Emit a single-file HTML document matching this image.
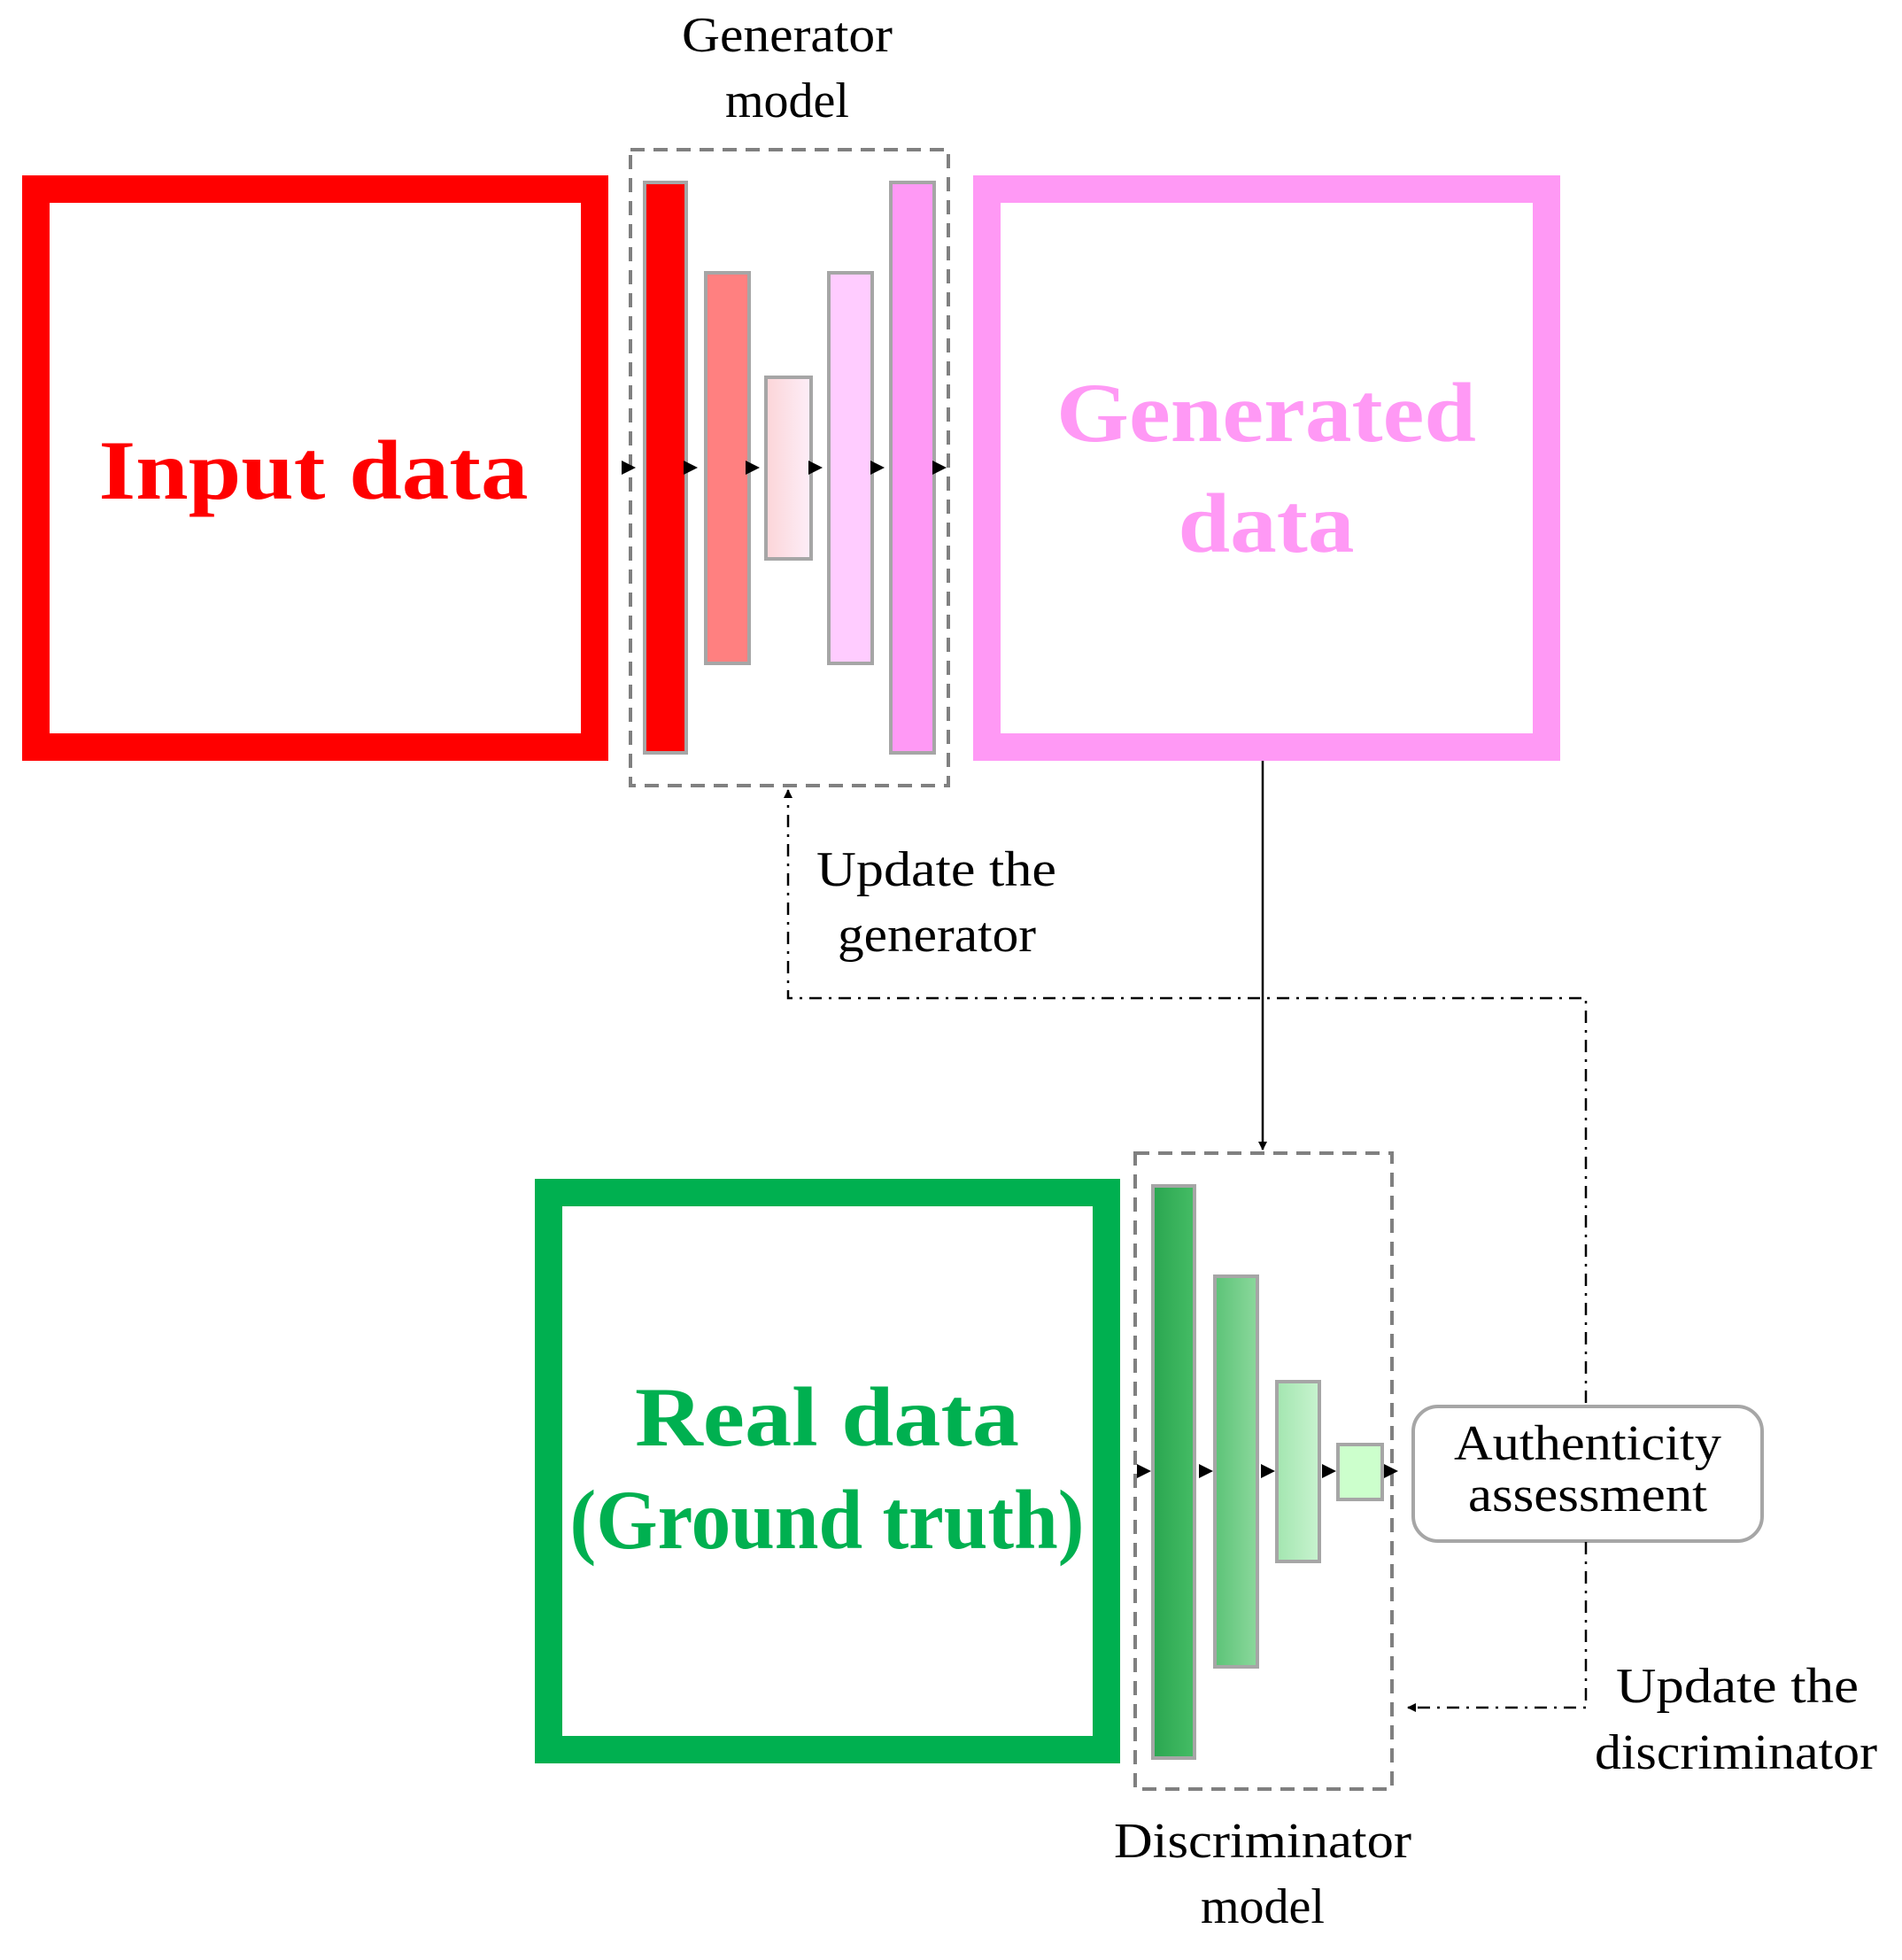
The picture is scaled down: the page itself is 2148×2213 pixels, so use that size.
<!DOCTYPE html>
<html><head><meta charset="utf-8"><style>html,body{margin:0;padding:0;background:#fff}svg{display:block}</style></head>
<body>
<svg width="2148" height="2213" viewBox="0 0 2148 2213" xmlns="http://www.w3.org/2000/svg" font-family="'Liberation Serif', serif">
<defs>
<linearGradient id="g3" x1="0" x2="1"><stop offset="0" stop-color="#fcd5d8"/><stop offset="1" stop-color="#fdeef8"/></linearGradient>
<linearGradient id="d1" x1="0" x2="1"><stop offset="0" stop-color="#2aa650"/><stop offset="1" stop-color="#45bc65"/></linearGradient>
<linearGradient id="d2" x1="0" x2="1"><stop offset="0" stop-color="#5cc377"/><stop offset="1" stop-color="#8bd89c"/></linearGradient>
<linearGradient id="d3" x1="0" x2="1"><stop offset="0" stop-color="#a3e6b0"/><stop offset="1" stop-color="#c8f3cf"/></linearGradient>
<marker id="ah" markerWidth="10" markerHeight="10" refX="9" refY="5" orient="auto" markerUnits="userSpaceOnUse"><path d="M0,0 L10,5 L0,10 z" fill="#000"/></marker>
</defs>

<!-- Input box -->
<rect x="40.5" y="213.5" width="631" height="630" fill="none" stroke="#ff0000" stroke-width="31"/>
<text x="354" y="563" font-size="95" font-weight="bold" fill="#ff0000" text-anchor="middle" textLength="485" lengthAdjust="spacingAndGlyphs">Input data</text>

<!-- Generator -->
<text x="889" y="58" font-size="56" text-anchor="middle" textLength="238" lengthAdjust="spacingAndGlyphs">Generator</text>
<text x="889" y="132" font-size="56" text-anchor="middle">model</text>
<rect x="712" y="169" width="359" height="718" fill="none" stroke="#808080" stroke-width="4" stroke-dasharray="16,10"/>
<rect x="728" y="206" width="47" height="644" fill="#ff0000" stroke="#a6a6a6" stroke-width="4"/>
<rect x="797" y="308" width="49" height="441" fill="#ff8080" stroke="#a6a6a6" stroke-width="4"/>
<rect x="865" y="426" width="51" height="205" fill="url(#g3)" stroke="#a6a6a6" stroke-width="4"/>
<rect x="936" y="308" width="49" height="441" fill="#ffccff" stroke="#a6a6a6" stroke-width="4"/>
<rect x="1006" y="206" width="49" height="644" fill="#ff99f5" stroke="#a6a6a6" stroke-width="4"/>
<g fill="#000">
<path d="M702,520 L718,528 L702,536z"/><path d="M772,520 L788,528 L772,536z"/><path d="M842,520 L858,528 L842,536z"/><path d="M913,520 L929,528 L913,536z"/><path d="M983,520 L999,528 L983,536z"/><path d="M1053,520 L1069,528 L1053,536z"/>
</g>

<!-- Generated box -->
<rect x="1114.5" y="213.5" width="632" height="630" fill="none" stroke="#ff99f5" stroke-width="31"/>
<text x="1430" y="498" font-size="95" font-weight="bold" fill="#ff99f5" text-anchor="middle" textLength="474" lengthAdjust="spacingAndGlyphs">Generated</text>
<text x="1430" y="623" font-size="95" font-weight="bold" fill="#ff99f5" text-anchor="middle" textLength="199" lengthAdjust="spacingAndGlyphs">data</text>

<!-- connector generated -> discriminator -->
<line x1="1426" y1="859" x2="1426" y2="1298" stroke="#000" stroke-width="2.5" marker-end="url(#ah)"/>

<!-- Update generator -->
<path d="M1791,1584 L1791,1127 L890,1127 L890,892" fill="none" stroke="#000" stroke-width="2.5" stroke-dasharray="14,8,3,8" marker-end="url(#ah)"/>
<text x="922" y="1000" font-size="56" textLength="271" lengthAdjust="spacingAndGlyphs">Update the</text>
<text x="946" y="1074" font-size="56" textLength="224" lengthAdjust="spacingAndGlyphs">generator</text>

<!-- Real data box -->
<rect x="619.5" y="1346.5" width="630" height="629" fill="none" stroke="#00b050" stroke-width="31"/>
<text x="934" y="1632" font-size="95" font-weight="bold" fill="#00b050" text-anchor="middle" textLength="434" lengthAdjust="spacingAndGlyphs">Real data</text>
<text x="934" y="1748" font-size="95" font-weight="bold" fill="#00b050" text-anchor="middle" textLength="581" lengthAdjust="spacingAndGlyphs">(Ground truth)</text>

<!-- Discriminator -->
<rect x="1282" y="1302" width="290" height="718" fill="none" stroke="#808080" stroke-width="4" stroke-dasharray="16,10"/>
<rect x="1302" y="1339" width="47" height="646" fill="url(#d1)" stroke="#a6a6a6" stroke-width="4"/>
<rect x="1372" y="1441" width="48" height="441" fill="url(#d2)" stroke="#a6a6a6" stroke-width="4"/>
<rect x="1442" y="1560" width="48" height="203" fill="url(#d3)" stroke="#a6a6a6" stroke-width="4"/>
<rect x="1511" y="1631" width="50" height="62" fill="#ccffcc" stroke="#a6a6a6" stroke-width="4"/>
<g fill="#000">
<path d="M1284,1653 L1300,1661 L1284,1669z"/><path d="M1354,1653 L1370,1661 L1354,1669z"/><path d="M1424,1653 L1440,1661 L1424,1669z"/><path d="M1493,1653 L1509,1661 L1493,1669z"/><path d="M1563,1653 L1579,1661 L1563,1669z"/>
</g>
<text x="1426" y="2097" font-size="56" text-anchor="middle" textLength="336" lengthAdjust="spacingAndGlyphs">Discriminator</text>
<text x="1426" y="2171" font-size="56" text-anchor="middle">model</text>

<!-- Authenticity -->
<rect x="1596" y="1588" width="394" height="152" rx="28" fill="#fff" stroke="#a6a6a6" stroke-width="4"/>
<text x="1793" y="1648" font-size="56" text-anchor="middle" textLength="302" lengthAdjust="spacingAndGlyphs">Authenticity</text>
<text x="1793" y="1706" font-size="56" text-anchor="middle" textLength="270" lengthAdjust="spacingAndGlyphs">assessment</text>

<!-- Update discriminator -->
<path d="M1791,1741 L1791,1928 L1590,1928" fill="none" stroke="#000" stroke-width="2.5" stroke-dasharray="14,8,3,8" marker-end="url(#ah)"/>
<text x="1825" y="1922" font-size="56" textLength="274" lengthAdjust="spacingAndGlyphs">Update the</text>
<text x="1801" y="1997" font-size="56" textLength="319" lengthAdjust="spacingAndGlyphs">discriminator</text>
</svg>
</body></html>
